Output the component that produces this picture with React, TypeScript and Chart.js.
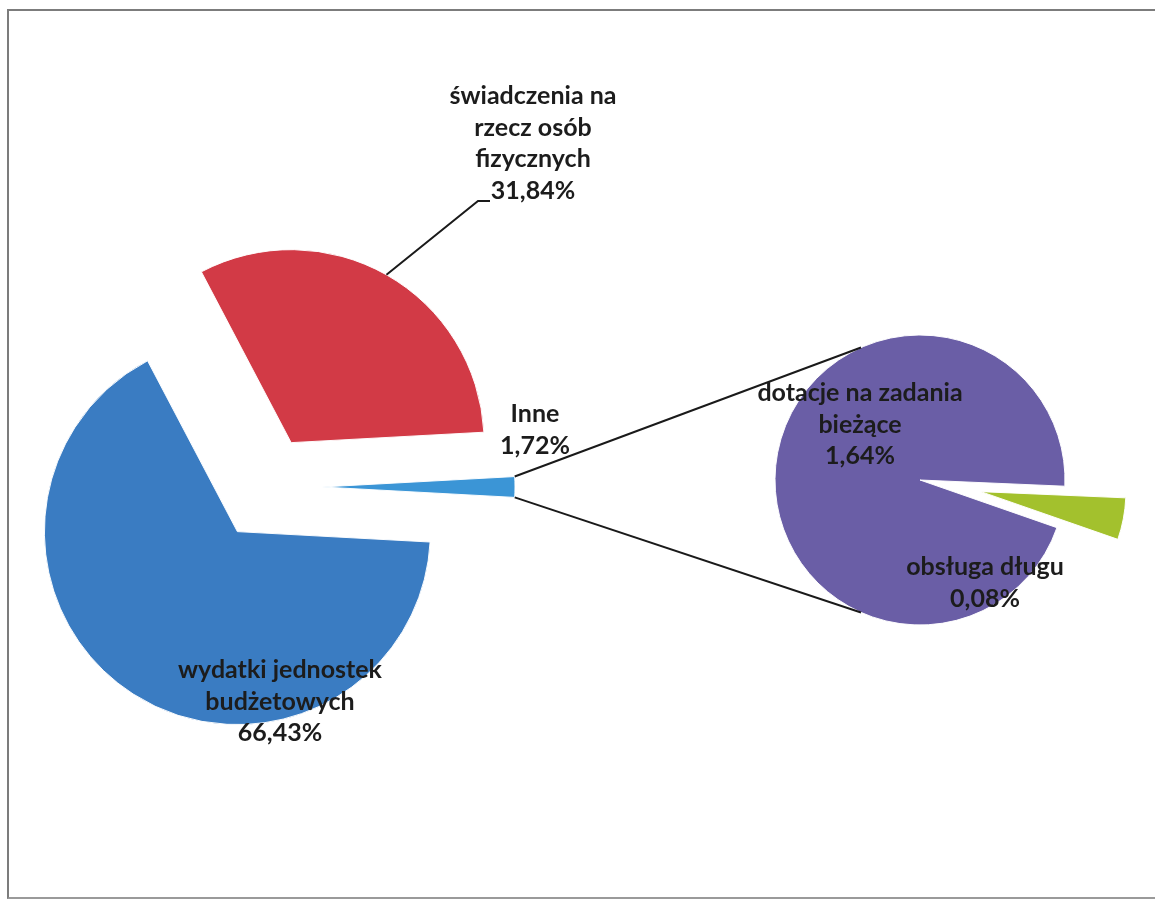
import { useEffect, useRef } from "react";
import { Chart, registerables } from "chart.js";

Chart.register(...registerables);

// ---- data ----
const mainCategories = ["Inne", "wydatki jednostek budżetowych", "świadczenia na rzecz osób fizycznych"];
const mainValues = [1.72, 66.43, 31.84];
const mainColors = ["#3b95d6", "#3a7cc2", "#d23a46"];
const mainLabelLines = [["Inne"], ["wydatki jednostek", "budżetowych"], ["świadczenia na", "rzecz osób", "fizycznych"]];

const subCategories = ["dotacje na zadania bieżące", "obsługa długu"];
const subValues = [1.64, 0.08];
const subColors = ["#6a5ea6", "#a3c12d"];
const subLabelLines = [["dotacje na zadania", "bieżące"], ["obsługa długu"]];

// ---- layout ----
const W = 1155;
const H = 901;
const MAIN = { cx: 266, cy: 487, r: 193, rotation: 86.9, explode: [56, 53, 51] };
const SUB = { cx: 920, cy: 480, r: 145, rotation: 109.2, explode: [0, 62] };
const MAIN_LABEL_POS = [[535, 414], [280, 670], [533, 96]];
const SUB_LABEL_POS = [[860, 393], [985, 567]];
const LEADER_END = [[478, 201], [490, 201]];
const CONNECT_ANGLES = [246, 114];
const FONT = "bold 25px Lato";
const LINE_H = 31.5;
const TEXT_COLOR = "#1c1c1c";

const fmt = (v: number) => v.toFixed(2).replace(".", ",") + "%";

function drawLabel(ctx: CanvasRenderingContext2D, lines: string[], cx: number, cy: number) {
  ctx.save();
  ctx.font = FONT;
  ctx.fillStyle = TEXT_COLOR;
  ctx.textAlign = "center";
  ctx.textBaseline = "middle";
  lines.forEach((t, i) => ctx.fillText(t, cx, cy + i * LINE_H));
  ctx.restore();
}

const explodePlugin = (dist: number[]) => ({
  id: "explode",
  afterDatasetsUpdate(chart: any) {
    const meta = chart.getDatasetMeta(0);
    meta.data.forEach((el: any, i: number) => {
      const mid = (el.startAngle + el.endAngle) / 2;
      el.x += Math.cos(mid) * (dist[i] || 0);
      el.y += Math.sin(mid) * (dist[i] || 0);
    });
  },
});

function padFor(cx: number, cy: number) {
  return { left: cx - 100, right: W - cx - 100, top: cy - 100, bottom: H - cy - 100 };
}

export default function App() {
  const c1 = useRef<HTMLCanvasElement>(null);
  const c2 = useRef<HTMLCanvasElement>(null);

  useEffect(() => {
    const mainLabelsPlugin = {
      id: "mainLabels",
      afterDraw(chart: any) {
        const ctx = chart.ctx as CanvasRenderingContext2D;
        const meta = chart.getDatasetMeta(0);
        const red: any = meta.data[2];
        const mid = (red.startAngle + red.endAngle) / 2;
        const sx = red.x + Math.cos(mid) * red.outerRadius;
        const sy = red.y + Math.sin(mid) * red.outerRadius;
        ctx.save();
        ctx.strokeStyle = "#1a1a1a";
        ctx.lineWidth = 2;
        ctx.beginPath();
        ctx.moveTo(sx, sy);
        ctx.lineTo(LEADER_END[0][0], LEADER_END[0][1]);
        ctx.lineTo(LEADER_END[1][0], LEADER_END[1][1]);
        ctx.stroke();
        ctx.restore();
        mainValues.forEach((v, i) => {
          drawLabel(ctx, [...mainLabelLines[i], fmt(v)], MAIN_LABEL_POS[i][0], MAIN_LABEL_POS[i][1]);
        });
      },
    };

    const main = new Chart(c1.current!, {
      type: "pie",
      data: {
        labels: mainCategories,
        datasets: [
          {
            data: mainValues,
            backgroundColor: mainColors,
            borderColor: "rgba(255,255,255,0.95)",
            borderWidth: 1,
            clip: false as any,
          },
        ],
      },
      options: {
        responsive: false,
        animation: false,
        events: [],
        radius: MAIN.r,
        rotation: MAIN.rotation,
        layout: { padding: padFor(MAIN.cx, MAIN.cy) },
        plugins: { legend: { display: false }, tooltip: { enabled: false } },
      } as any,
      plugins: [explodePlugin(MAIN.explode), mainLabelsPlugin],
    });

    const subLabelsPlugin = {
      id: "subLabels",
      afterDraw(chart: any) {
        const ctx = chart.ctx as CanvasRenderingContext2D;
        const inne: any = main.getDatasetMeta(0).data[0];
        const big: any = chart.getDatasetMeta(0).data[0];
        const ends = [inne.startAngle, inne.endAngle].map((a: number) => [
          inne.x + Math.cos(a) * inne.outerRadius,
          inne.y + Math.sin(a) * inne.outerRadius,
        ]);
        ctx.save();
        ctx.strokeStyle = "#1a1a1a";
        ctx.lineWidth = 2;
        CONNECT_ANGLES.forEach((deg, i) => {
          const a = (deg * Math.PI) / 180;
          ctx.beginPath();
          ctx.moveTo(ends[i][0], ends[i][1]);
          ctx.lineTo(big.x + Math.cos(a) * big.outerRadius, big.y + Math.sin(a) * big.outerRadius);
          ctx.stroke();
        });
        ctx.restore();
        subValues.forEach((v, i) => {
          drawLabel(ctx, [...subLabelLines[i], fmt(v)], SUB_LABEL_POS[i][0], SUB_LABEL_POS[i][1]);
        });
      },
    };

    const sub = new Chart(c2.current!, {
      type: "pie",
      data: {
        labels: subCategories,
        datasets: [
          {
            data: subValues,
            backgroundColor: subColors,
            borderColor: "rgba(255,255,255,0.95)",
            borderWidth: 1,
            clip: false as any,
          },
        ],
      },
      options: {
        responsive: false,
        animation: false,
        events: [],
        radius: SUB.r,
        rotation: SUB.rotation,
        layout: { padding: padFor(SUB.cx, SUB.cy) },
        plugins: { legend: { display: false }, tooltip: { enabled: false } },
      } as any,
      plugins: [explodePlugin(SUB.explode), subLabelsPlugin],
    });

    return () => {
      sub.destroy();
      main.destroy();
    };
  }, []);

  return (
    <div style={{ position: "absolute", left: 0, top: 0, width: W, height: H, background: "#fff", overflow: "hidden" }}>
      <div
        style={{
          position: "absolute",
          left: 7,
          top: 9,
          width: 1300,
          height: 886,
          borderLeft: "2px solid #7c7c7c",
          borderTop: "2px solid #7c7c7c",
          borderBottom: "2px solid #9a9a9a",
        }}
      />
      <canvas ref={c1} width={W} height={H} style={{ position: "absolute", left: 0, top: 0 }} />
      <canvas ref={c2} width={W} height={H} style={{ position: "absolute", left: 0, top: 0 }} />
    </div>
  );
}
